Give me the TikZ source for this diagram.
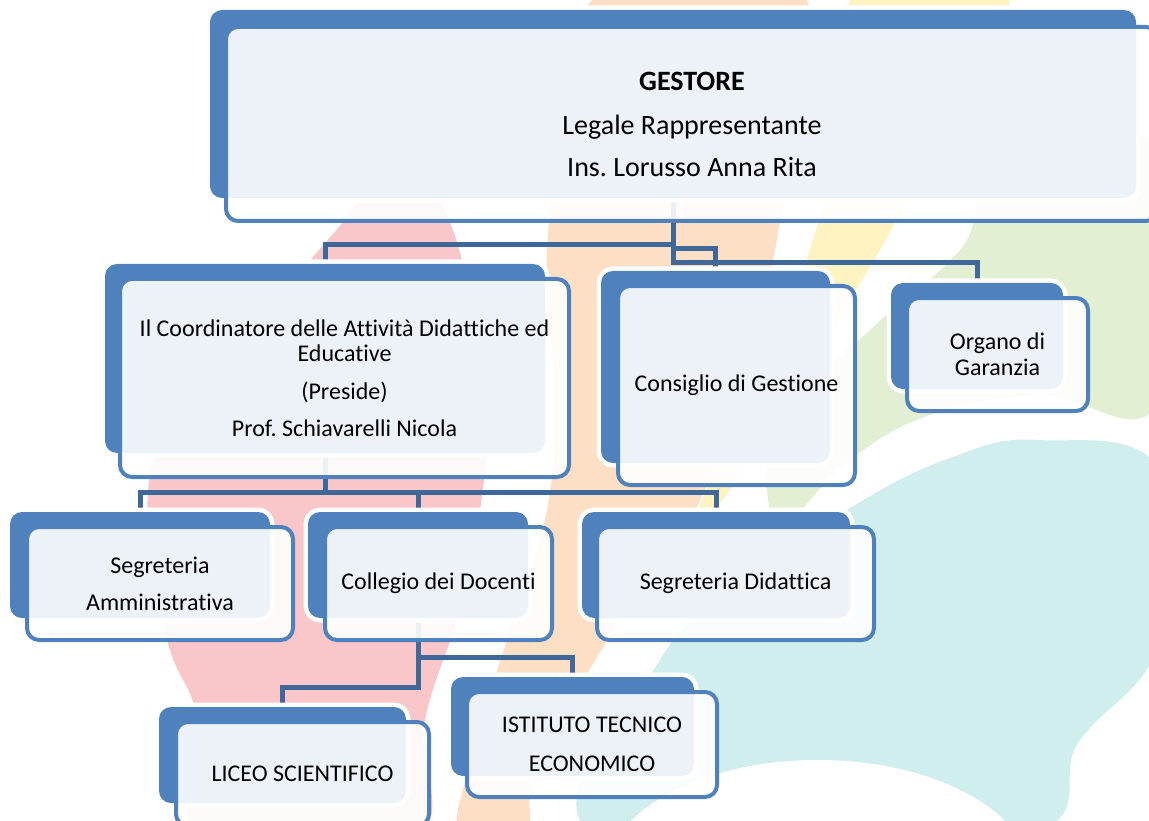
\documentclass[tikz,border=0pt]{standalone}
\usepackage{fontspec}
\setmainfont{Carlito}[Ligatures=NoCommon]
\usepackage{tikz}
\usetikzlibrary{backgrounds}
\frenchspacing

\definecolor{boxblue}{RGB}{79,129,189}
\definecolor{linkblue}{RGB}{63,103,151}
\definecolor{wmpink}{RGB}{249,199,202}
\definecolor{wmpeach}{RGB}{252,223,197}
\definecolor{wmyellow}{RGB}{255,243,194}
\definecolor{wmgreen}{RGB}{227,239,210}
\definecolor{wmcyan}{RGB}{208,238,238}

\begin{document}
\begin{tikzpicture}[x=1pt, y=-1pt, line join=round,
    backbox/.style={fill=boxblue, rounded corners=12pt, inner sep=0pt, outer sep=0pt,
      preaction={draw=white, line width=9pt}},
    frontbox/.style={draw=boxblue, line width=4pt, fill=white, fill opacity=0.9,
      text opacity=1, rounded corners=12pt, inner sep=0pt, outer sep=0pt, align=center,
      font=\fontsize{24}{27}\selectfont},
    link/.style={draw=linkblue, line width=5pt, line join=miter}]
  \useasboundingbox (0,0) rectangle (1149,821);
  %--- Watermark
  \begin{scope}[on background layer]
    \fill[white] (0,0) rectangle (1149,821);
    \fill[wmpink] plot[smooth cycle, tension=0.7] coordinates {(400,120) (440,200) (462,260) (482,360) (486,460) (462,600) (425,720) (412,840) (205,840) (198,720) (165,630) (151,470) (220,360) (312,258) (358,200)};
    \fill[wmpeach] plot[smooth cycle, tension=0.7] coordinates {(608,-10) (801,-10) (779,227) (740,380) (700,500) (640,590) (591,667) (535,760) (523,840) (458,840) (480,730) (509,633) (545,520) (555,400) (547,250) (570,100)};
    \fill[wmyellow] plot[smooth cycle, tension=0.7] coordinates {(861,-10) (1006,-10) (950,110) (893,227) (800,380) (715,510) (700,505) (760,380) (817,227) (845,100)};
    \fill[wmgreen] plot[smooth cycle, tension=0.7] coordinates {(1000,180) (1160,150) (1160,400) (1039,395) (930,415) (850,460) (790,520) (770,515) (779,420) (870,330) (960,250)};
    \fill[wmcyan] plot[smooth cycle, tension=0.7] coordinates {(600,840) (660,660) (760,570) (855,505) (950,458) (1039,440) (1160,470) (1160,640) (1080,740) (1010,840)};
    \fill[white] (818,880) ellipse [x radius=215pt, y radius=120pt];
  \end{scope}
  %--- Gestore
  \node[backbox, minimum width=926pt, minimum height=188pt] (gestoreB) at (673,104) {};
  \node[frontbox, minimum width=932pt, minimum height=194pt, font=\fontsize{28}{34}\selectfont] (gestore) at (692,124)
    {\textbf{GESTORE}\\[10pt] Legale Rappresentante\\[8pt] Ins. Lorusso Anna Rita};
  %--- Coordinatore
  \node[backbox, minimum width=440pt, minimum height=189pt] (coordB) at (325,358.5) {};
  \node[frontbox, minimum width=449pt, minimum height=198pt] (coord) at (344.5,378)
    {Il Coordinatore delle Attività Didattiche ed\\[-2pt] Educative\\[11pt] (Preside)\\[10pt] Prof. Schiavarelli Nicola};
  %--- Consiglio
  \node[backbox, minimum width=229pt, minimum height=192pt] (consB) at (715.5,367) {};
  \node[frontbox, minimum width=237pt, minimum height=199pt] (cons) at (736.5,385.5) {Consiglio di Gestione};
  %--- Organo
  \node[backbox, minimum width=172pt, minimum height=106pt] (organoB) at (977,336) {};
  \node[frontbox, minimum width=181pt, minimum height=113pt] (organo) at (997.5,354.5) {Organo di\\[-1pt] Garanzia};
  %--- Segreteria Amministrativa
  \node[backbox, minimum width=260pt, minimum height=106pt] (amminB) at (140,565) {};
  \node[frontbox, minimum width=266pt, minimum height=113pt] (ammin) at (160,583.5) {Segreteria\\[10pt] Amministrativa};
  %--- Collegio
  \node[backbox, minimum width=220pt, minimum height=106pt] (collegioB) at (418,565) {};
  \node[frontbox, minimum width=227pt, minimum height=113pt] (collegio) at (438.5,583.5) {Collegio dei Docenti};
  %--- Segreteria Didattica
  \node[backbox, minimum width=268pt, minimum height=106pt] (didatB) at (716,565) {};
  \node[frontbox, minimum width=277pt, minimum height=113pt] (didat) at (735.5,583.5) {Segreteria Didattica};
  %--- Liceo
  \node[backbox, minimum width=247pt, minimum height=96pt] (liceoB) at (282.5,755) {};
  \node[frontbox, minimum width=253pt, minimum height=104pt] (liceo) at (302.5,774) {LICEO SCIENTIFICO};
  %--- Istituto
  \node[backbox, minimum width=243pt, minimum height=99pt] (istitutoB) at (572.5,726.5) {};
  \node[frontbox, minimum width=250pt, minimum height=105pt] (istituto) at (592,744.5) {ISTITUTO TECNICO\\[12pt] ECONOMICO};
  %--- Links
  \begin{scope}[on background layer]
    \draw[link] (gestoreB.south) -- ++(0,47) -| (coordB.north);
    \draw[link] (gestoreB.south) -- ++(0,51) -| (consB.north);
    \draw[link] (gestoreB.south) -- ++(0,65) -| (organoB.north);
    \draw[link] (coordB.south) -- ++(0,39) -| (amminB.north);
    \draw[link] (coordB.south) -- ++(0,39) -| (collegioB.north);
    \draw[link] (coordB.south) -- ++(0,39) -| (didatB.north);
    \draw[link] (collegioB.south) -- ++(0,39) -| (istitutoB.north);
    \draw[link] (collegioB.south) -- ++(0,69) -| (liceoB.north);
  \end{scope}
\end{tikzpicture}
\end{document}
